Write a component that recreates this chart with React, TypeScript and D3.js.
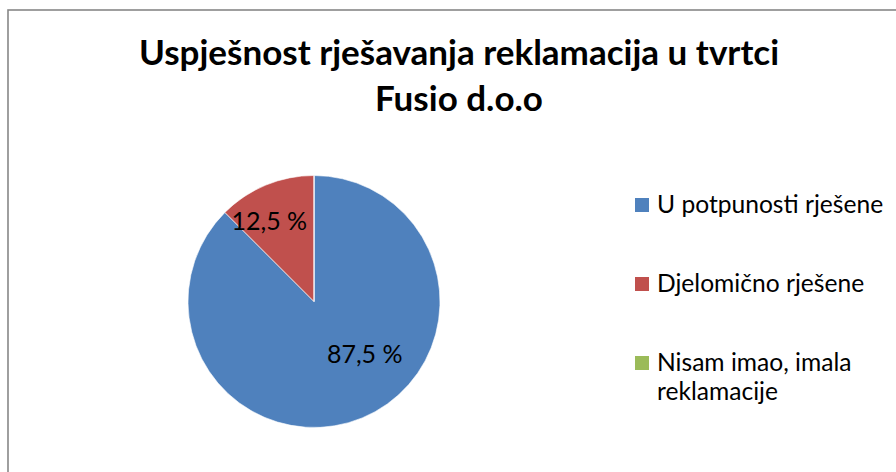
import React from 'react';
import * as d3 from 'd3';

const categories = ['U potpunosti rješene', 'Djelomično rješene', 'Nisam imao, imala reklamacije'];
const values = [87.5, 12.5, 0];
const valueLabels = ['87,5 %', '12,5 %', ''];
const colors = ['#4F81BD', '#C0504D', '#9BBB59'];
const titleLines = ['Uspješnost rješavanja reklamacija u tvrtci', 'Fusio d.o.o'];
const legendLines = [['U potpunosti rješene'], ['Djelomično rješene'], ['Nisam imao, imala', 'reklamacije']];

const W = 896;
const H = 472;
const FONT = 'Lato, "Open Sans", sans-serif';

class PieChart extends React.Component {
  node: SVGSVGElement | null = null;

  componentDidMount() {
    this.createChart();
  }

  createChart() {
    const svg = d3.select(this.node);
    svg.selectAll('*').remove();

    // frame of the chart area
    svg.append('rect')
      .attr('x', 8).attr('y', 10)
      .attr('width', 1000).attr('height', 1000)
      .attr('fill', '#fff')
      .attr('stroke', '#878787')
      .attr('stroke-width', 1.6);

    // title
    const title = svg.append('text')
      .attr('text-anchor', 'middle')
      .attr('font-family', FONT)
      .attr('font-weight', 'bold')
      .attr('font-size', 35)
      .attr('fill', '#000');
    titleLines.forEach((t, i) => {
      title.append('tspan').attr('x', 459).attr('y', 65 + i * 46).text(t);
    });

    // pie
    const cx = 314, cy = 301.5, radius = 126;
    const pie = d3.pie<number>().value(d => d).sort(null);
    const arcs = pie(values);
    const arc = d3.arc<d3.PieArcDatum<number>>().innerRadius(0).outerRadius(radius);
    const labelArc = d3.arc<d3.PieArcDatum<number>>().innerRadius(radius * 0.72).outerRadius(radius * 0.72);
    // excel's best-fit nudges for the labels
    const nudge = [[16, -31], [-10, 4], [0, 0]];

    const g = svg.append('g').attr('transform', `translate(${cx},${cy})`);
    g.selectAll('path')
      .data(arcs)
      .enter()
      .append('path')
      .attr('d', arc)
      .attr('fill', (d, i) => colors[i])
      .attr('stroke', '#fff')
      .attr('stroke-width', 0.6);

    g.selectAll('text')
      .data(arcs.filter(d => d.data > 0))
      .enter()
      .append('text')
      .attr('transform', d => {
        const c = labelArc.centroid(d);
        const n = nudge[d.index];
        return `translate(${c[0] + n[0]},${c[1] + n[1]})`;
      })
      .attr('text-anchor', 'middle')
      .attr('dy', '0.35em')
      .attr('font-family', FONT)
      .attr('font-size', 25)
      .attr('fill', '#000')
      .text(d => valueLabels[d.index]);

    // legend
    const legendY = d3.scalePoint<string>().domain(categories).range([213, 371]);
    const legend = svg.append('g');
    categories.forEach((c, i) => {
      const y = legendY(c) as number;
      legend.append('rect')
        .attr('x', 635).attr('y', y - 15)
        .attr('width', 14).attr('height', 14)
        .attr('fill', colors[i]);
      const t = legend.append('text')
        .attr('font-family', FONT)
        .attr('font-size', 24.6)
        .attr('fill', '#000');
      legendLines[i].forEach((line, j) => {
        t.append('tspan').attr('x', 657).attr('y', y + j * 29).text(line);
      });
    });
  }

  render() {
    return (
      <svg ref={node => { this.node = node; }} width={W} height={H} style={{ display: 'block' }} />
    );
  }
}

export default function App() {
  return (
    <div style={{ position: 'fixed', left: 0, top: 0 }}>
      <PieChart />
    </div>
  );
}
